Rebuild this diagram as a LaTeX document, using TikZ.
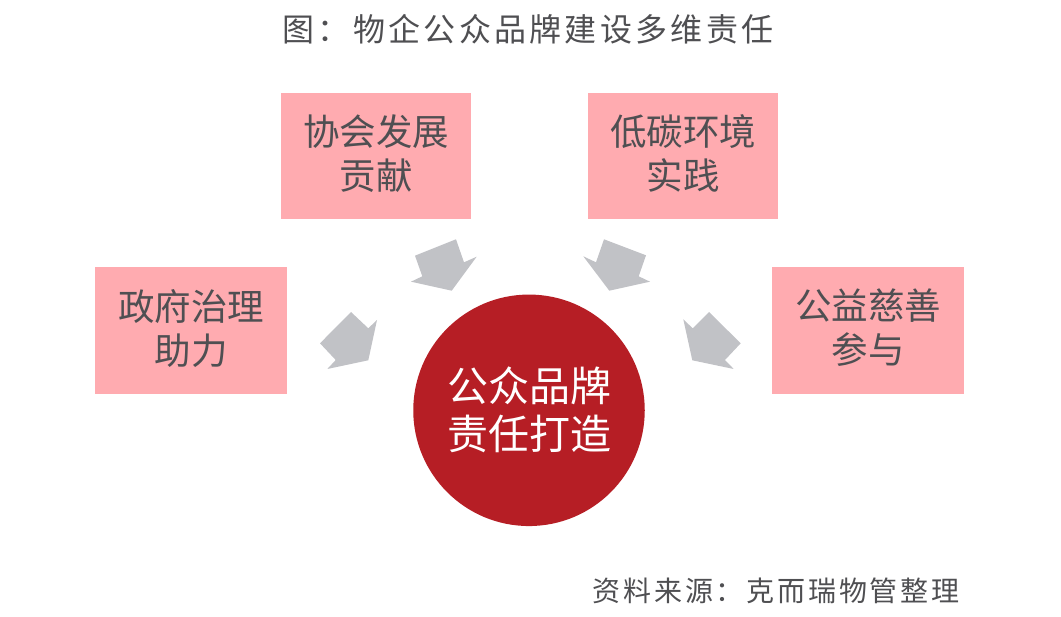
\documentclass[tikz,border=0pt]{standalone}
\usepackage{fontspec}
\setmainfont{Noto Sans CJK SC}
\newfontfamily\titlefont[LetterSpace=10.3]{Noto Sans CJK SC}
\newfontfamily\srcfont[LetterSpace=10]{Noto Sans CJK SC}
\definecolor{boxpink}{HTML}{FFABB0}
\definecolor{discred}{HTML}{B61E25}
\definecolor{arrowgray}{HTML}{C1C2C6}
\definecolor{textgray}{HTML}{4F4F52}

\begin{document}
\begin{tikzpicture}[x=1pt, y=-1pt,
  main/.style = {fill=boxpink, minimum width=190pt, minimum height=126pt, align=center, text=textgray, font=\fontsize{36.5}{44}\selectfont, inner sep=0pt},
  hub/.style = {circle, fill=discred, minimum size=231.5pt, align=center, text=white, font=\fontsize{41}{48}\selectfont, inner sep=0pt},
  blockarrow/.style = {fill=arrowgray}]
\useasboundingbox (0,0) rectangle (1061,617);
\node[text=textgray, font=\fontsize{32}{38}\selectfont] (title) at (528,29) {\titlefont 图：物企公众品牌建设多维责任};
\node[main] (assoc) at (376,156) {协会发展\\贡献\\[-36pt]};
\node[main] (lowcarbon) at (683,156) {低碳环境\\实践\\[-36pt]};
\node[main, minimum width=192pt, minimum height=127pt] (gov) at (191,330.5) {政府治理\\助力\\[-36pt]};
\node[main, minimum width=192pt, minimum height=127pt] (charity) at (868,330.5) {公益慈善\\参与\\[-36pt]};
\node[hub] (brand) at (529,410.3) {公众品牌\\责任打造};
\node[text=textgray, font=\fontsize{28}{34}\selectfont, anchor=east] (source) at (963,591) {\srcfont 资料来源：克而瑞物管整理};
% block arrows
\fill[blockarrow] (415,255.7) -- (456,239.3) -- (464,262.3) -- (476.7,256.7) -- (451.7,290.7) -- (411,281.7) -- (422.3,276.3) -- cycle;
\fill[blockarrow] (351,312) -- (368.3,328.3) -- (377,320) -- (368.3,360.3) -- (327.3,369) -- (335.7,360) -- (320,343.3) -- cycle;
\fill[blockarrow] (604,239.3) -- (646,255.3) -- (638.7,276.3) -- (650,281.7) -- (609.3,290.7) -- (583.3,256.3) -- (596,262.3) -- cycle;
\fill[blockarrow] (709,312) -- (740.7,343.3) -- (725,360) -- (733.7,369) -- (692.3,360.3) -- (683.3,319.3) -- (692.7,328.3) -- cycle;
\end{tikzpicture}
\end{document}
